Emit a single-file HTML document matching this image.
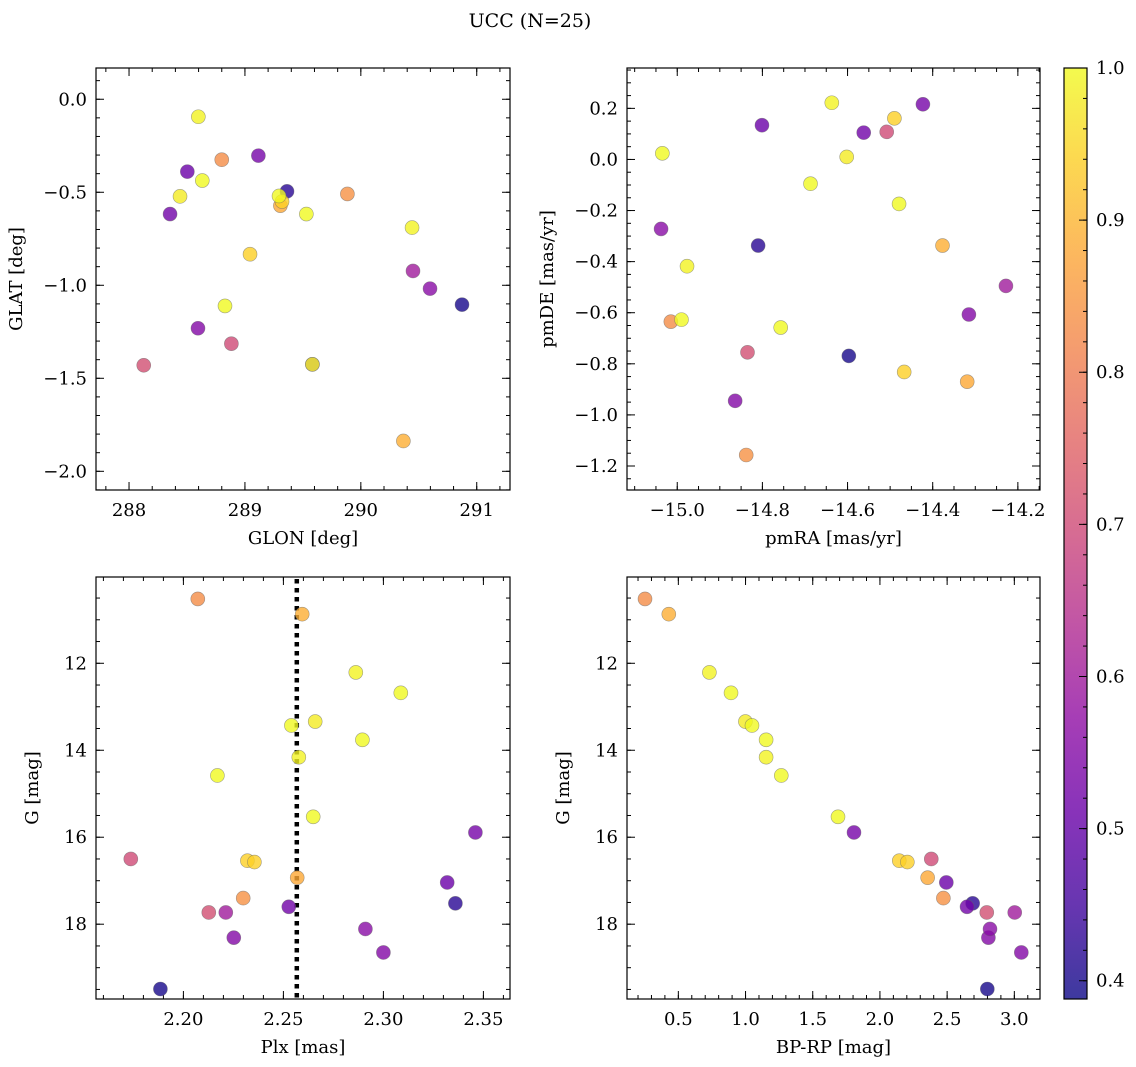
<!DOCTYPE html>
<html><head><meta charset="utf-8"><style>
html,body{margin:0;padding:0;background:#fff;}
svg{display:block;font-family:"DejaVu Serif","Liberation Serif",serif;}
</style></head><body>
<svg id="fig" width="1136" height="1067" viewBox="0 0 1136 1067">
<text x="530" y="27" text-anchor="middle" font-size="19">UCC (N=25)</text>
</svg>
<script>
// ---- data (one entry per cluster member) ----
const glon = [288.8,290.367,288.598,288.632,288.44,289.294,289.53,290.442,288.828,289.582,289.116,288.883,289.044,289.32,289.306,288.503,289.884,289.363,288.354,288.127,290.45,290.597,288.595,289.582,290.873];
const glat = [-0.325,-1.837,-0.094,-0.437,-0.522,-0.52,-0.617,-0.69,-1.111,-1.425,-0.303,-1.314,-0.833,-0.55,-0.572,-0.389,-0.509,-0.495,-0.617,-1.43,-0.923,-1.018,-1.231,-1.425,-1.104];
const pmra = [-15.015,-14.377,-14.637,-15.035,-14.602,-14.687,-14.479,-14.977,-14.99,-14.757,-14.423,-14.508,-14.49,-14.467,-14.319,-14.801,-14.838,-14.81,-14.562,-14.835,-14.228,-15.038,-14.315,-14.864,-14.597];
const pmde = [-0.635,-0.337,0.222,0.024,0.01,-0.095,-0.174,-0.418,-0.627,-0.658,0.216,0.108,0.161,-0.832,-0.87,0.134,-1.157,-0.337,0.105,-0.755,-0.495,-0.272,-0.607,-0.945,-0.769];
const plx = [2.2072,2.2594,2.2862,2.3087,2.2659,2.254,2.2895,2.2577,2.217,2.2649,2.346,2.1737,2.232,2.2355,2.2569,2.3319,2.2299,2.336,2.2527,2.2127,2.2212,2.291,2.2252,2.30,2.1885];
const gmag = [10.52,10.87,12.21,12.68,13.34,13.43,13.76,14.16,14.58,15.53,15.89,16.5,16.54,16.57,16.93,17.04,17.4,17.52,17.6,17.73,17.73,18.11,18.31,18.65,19.49];
const bprp = [0.252,0.429,0.731,0.892,0.999,1.048,1.153,1.153,1.266,1.688,1.807,2.382,2.144,2.204,2.355,2.494,2.472,2.69,2.648,2.795,3.003,2.819,2.807,3.052,2.799];
const prob = [0.83,0.89,0.99,1.0,0.98,1.0,1.0,0.99,1.0,1.0,0.53,0.70,0.94,0.94,0.88,0.51,0.84,0.42,0.52,0.71,0.60,0.56,0.55,0.55,0.40];
const plxMedian = 2.2567;
// tick labels
const ticksGlon = [288,289,290,291];
const ticksGlat = [0.0,-0.5,-1.0,-1.5,-2.0];
const ticksPmra = [-15.0,-14.8,-14.6,-14.4,-14.2];
const ticksPmde = [0.2,0.0,-0.2,-0.4,-0.6,-0.8,-1.0,-1.2];
const ticksPlx = [2.20,2.25,2.30,2.35];
const ticksG = [12,14,16,18];
const ticksBprp = [0.5,1.0,1.5,2.0,2.5,3.0];
const ticksCbar = [0.4,0.5,0.6,0.7,0.8,0.9,1.0];
const vmin = 0.388, vmax = 1.0;

const NS = "http://www.w3.org/2000/svg";
const svg = document.getElementById('fig');
function mk(tag, attrs, parent){ const e=document.createElementNS(NS,tag); for(const k in attrs) e.setAttribute(k,attrs[k]); (parent||svg).appendChild(e); return e; }
const plasma = [[13,8,135],[65,4,157],[106,0,168],[143,13,164],[177,42,144],[204,71,120],[225,100,98],[242,132,75],[252,166,54],[252,206,37],[240,249,33]];
function cmap(v){ let t=(v-vmin)/(vmax-vmin); t=Math.max(0,Math.min(1,t)); const f=t*10; const i=Math.min(9,Math.floor(f)); const r=f-i; const a=plasma[i], b=plasma[i+1];
  return 'rgb('+[0,1,2].map(k=>Math.round(a[k]+(b[k]-a[k])*r)).join(',')+')'; }
function fmt(v,d){ return (v<0?'\u2212':'')+Math.abs(v).toFixed(d); }
const order = prob.map((p,i)=>i).sort((a,b)=>prob[a]-prob[b]);

function panel(o){
  const g = mk('g',{});
  
  
  const X = v => o.x0 + (v-o.xmin)/(o.xmax-o.xmin)*(o.x1-o.x0);
  const Y = v => o.y1 - (v-o.ymin)/(o.ymax-o.ymin)*(o.y1-o.y0);
  const tk = mk('g',{stroke:'#000','stroke-width':1},g);
  
  
  for(let v=Math.ceil(o.xmin/o.xminor)*o.xminor; v<=o.xmax; v+=o.xminor){ const x=X(v);
    mk('line',{x1:x,x2:x,y1:o.y1,y2:o.y1-4},tk); mk('line',{x1:x,x2:x,y1:o.y0,y2:o.y0+4},tk); }
  for(let v=Math.ceil(o.ymin/o.yminor)*o.yminor; v<=o.ymax; v+=o.yminor){ const y=Y(v);
    mk('line',{x1:o.x0,x2:o.x0+4,y1:y,y2:y},tk); mk('line',{x1:o.x1,x2:o.x1-4,y1:y,y2:y},tk); }
  o.xt.forEach(v=>{ const x=X(v);
    mk('line',{x1:x,x2:x,y1:o.y1,y2:o.y1-8},tk); mk('line',{x1:x,x2:x,y1:o.y0,y2:o.y0+8},tk);
    const t=mk('text',{x:x,y:o.y1+26,'text-anchor':'middle','font-size':18},g); t.textContent=fmt(v,o.xd);
      });
  o.yt.forEach(v=>{ const y=Y(v);
    mk('line',{x1:o.x0,x2:o.x0+8,y1:y,y2:y},tk); mk('line',{x1:o.x1,x2:o.x1-8,y1:y,y2:y},tk);
    const t=mk('text',{x:o.x0-9,y:y+6,'text-anchor':'end','font-size':18},g); t.textContent=o.yneg?fmt(-v,o.yd):fmt(v,o.yd);
      });
  if(o.vline!==undefined){ const l=mk('line',{x1:X(o.vline),x2:X(o.vline),y1:o.y0+2,y2:o.y1,stroke:'#000','stroke-width':4.5,'stroke-dasharray':'4.5,4.5'},g);
      }
  order.forEach(i=>{ const c=mk('circle',{cx:X(o.xs[i]),cy:Y(o.ys[i]),r:7,fill:cmap(prob[i]),'fill-opacity':0.8,stroke:'#666','stroke-opacity':0.6,'stroke-width':0.6},g);
      });
  const fr=mk('rect',{x:o.x0,y:o.y0,width:o.x1-o.x0,height:o.y1-o.y0,fill:'none',stroke:'#000','stroke-width':1.2},g);
   
  const xl=mk('text',{x:(o.x0+o.x1)/2,y:o.y1+54,'text-anchor':'middle','font-size':18},g); xl.textContent=o.xlabel;
   
  const cy=(o.y0+o.y1)/2, cx=o.x0-o.ylx;
  const yl=mk('text',{x:cx,y:cy,'text-anchor':'middle','font-size':18,transform:'rotate(-90 '+cx+' '+cy+')'},g); yl.textContent=o.ylabel;
   
}

panel({name:'glon-glat-panel',x0:96,x1:510,y0:68,y1:490,xmin:287.715,xmax:291.287,ymin:-2.1005,ymax:0.168,xminor:0.2,yminor:0.1,
  xt:ticksGlon,yt:ticksGlat,xd:0,yd:1,xs:glon,ys:glat,xlabel:'GLON [deg]',ylabel:'GLAT [deg]',ylx:74});
panel({name:'pm-panel',x0:627,x1:1040,y0:68,y1:490,xmin:-15.118,xmax:-14.148,ymin:-1.294,ymax:0.358,xminor:0.05,yminor:0.05,
  xt:ticksPmra,yt:ticksPmde,xd:1,yd:1,xs:pmra,ys:pmde,xlabel:'pmRA [mas/yr]',ylabel:'pmDE [mas/yr]',ylx:74});
panel({name:'plx-g-panel',x0:96,x1:510,y0:577,y1:999,xmin:2.1563,xmax:2.3633,ymin:-19.72,ymax:-10.016,xminor:0.01,yminor:0.5,
  xt:ticksPlx,yt:ticksG.map(v=>-v),yneg:true,xd:2,yd:0,xs:plx,ys:gmag.map(v=>-v),xlabel:'Plx [mas]',ylabel:'G [mag]',ylx:58,vline:plxMedian});
panel({name:'cmd-panel',x0:627,x1:1040,y0:577,y1:999,xmin:0.118,xmax:3.191,ymin:-19.72,ymax:-10.016,xminor:0.1,yminor:0.5,
  xt:ticksBprp,yt:ticksG.map(v=>-v),yneg:true,xd:1,yd:0,xs:bprp,ys:gmag.map(v=>-v),xlabel:'BP-RP [mag]',ylabel:'G [mag]',ylx:58});

// colorbar
const cb = mk('g',{});


const defs=mk('defs',{},cb);
const grad=mk('linearGradient',{id:'cbg',x1:0,y1:1,x2:0,y2:0},defs);
for(let i=0;i<=10;i++){ mk('stop',{offset:i/10,'stop-color':cmap(vmin+(vmax-vmin)*i/10),'stop-opacity':0.8},grad); }
const CB={x0:1064,x1:1087,y0:68,y1:999};
const CY=v=>CB.y1-(v-vmin)/(vmax-vmin)*(CB.y1-CB.y0);
mk('rect',{x:CB.x0,y:CB.y0,width:CB.x1-CB.x0,height:CB.y1-CB.y0,fill:'url(#cbg)',stroke:'#000','stroke-width':1.2},cb);
for(let v=0.4;v<=1.0001;v+=0.02){ mk('line',{x1:CB.x1,x2:CB.x1-4,y1:CY(v),y2:CY(v),stroke:'#000'},cb); }
ticksCbar.forEach(v=>{ const y=CY(v); mk('line',{x1:CB.x1,x2:CB.x1-8,y1:y,y2:y,stroke:'#000'},cb);
  const t=mk('text',{x:CB.x1+9,y:y+6,'font-size':18},cb); t.textContent=v.toFixed(1);
    });
</script>
</body></html>
